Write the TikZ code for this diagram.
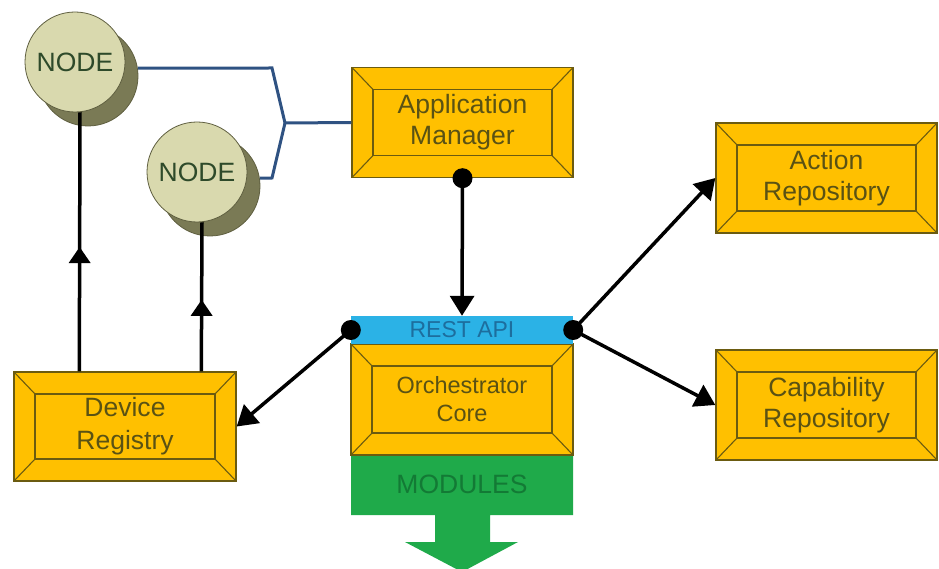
\documentclass[tikz,border=0pt]{standalone}
\usepackage{fontspec}
\setmainfont{Liberation Sans}
\usetikzlibrary{arrows.meta,calc}
\definecolor{orng}{HTML}{FFC000}
\definecolor{bord}{HTML}{6B5B10}
\definecolor{boxtxt}{HTML}{5A5214}
\definecolor{nfill}{HTML}{D9D9AE}
\definecolor{shad}{HTML}{7A7A55}
\definecolor{nbord}{HTML}{5F5F40}
\definecolor{ntxt}{HTML}{2E4A2A}
\definecolor{bline}{HTML}{2F5282}
\definecolor{restblue}{HTML}{2BB2E6}
\definecolor{resttxt}{HTML}{1D6E9E}
\definecolor{modgreen}{HTML}{1FAA4A}
\definecolor{modtxt}{HTML}{137A35}
\begin{document}
\begin{tikzpicture}[x=1pt,y=-1pt,
  bevelbox/.style={draw=bord, line width=1.4pt, fill=orng, minimum width=221pt,
    minimum height=110pt, inner sep=0pt, text=boxtxt, align=center,
    font=\fontsize{26.5}{31}\selectfont,
    path picture={
      \draw[line width=1.1pt, draw=bord]
        ([shift={(21pt,-22pt)}]path picture bounding box.north west) coordinate (i1)
        rectangle ([shift={(-21pt,22pt)}]path picture bounding box.south east) coordinate (i2);
      \draw[line width=1.1pt, draw=bord]
        (path picture bounding box.north west) -- (i1)
        (path picture bounding box.south east) -- (i2)
        (path picture bounding box.north east) -- (i1 -| i2)
        (path picture bounding box.south west) -- (i1 |- i2);
    }},
  shadowcirc/.style={circle, fill=shad, draw=nbord, line width=0.8pt, minimum size=100pt, inner sep=0pt},
  nodecirc/.style={circle, fill=nfill, draw=nbord, line width=0.8pt, minimum size=100pt, inner sep=0pt,
    text=ntxt, font=\fontsize{26.5}{31}\selectfont},
  blueline/.style={draw=bline, line width=3pt},
  arr/.style={line width=3.5pt, -{Triangle[width=24pt,length=20pt]}},
  plainline/.style={line width=3.5pt},
  dot/.style={fill=black}
]
\useasboundingbox (0,0) rectangle (939,569);

% circles
\node[shadowcirc] (n1s) at (88,76) {};
\node[nodecirc] (n1) at (75,62) {NODE};
\node[shadowcirc] (n2s) at (210,186) {};
\node[nodecirc] (n2) at (197,172) {NODE};

% boxes
\node[bevelbox] (am) at (462.5,122.5) {Application\\Manager};
\node[bevelbox, minimum width=222pt, minimum height=109pt, font=\fontsize{26.5}{33}\selectfont] (dr) at (125,426.5) {Device\\Registry};
\node[bevelbox] (ar) at (826.5,178) {Action\\Repository};
\node[bevelbox] (cr) at (826.5,405) {Capability\\Repository};

% modules arrow
\fill[modgreen] (351,455) -- (573,455) -- (573,515) -- (490,515) -- (490,542) -- (518,542)
  -- (462,572) -- (405,542) -- (435,542) -- (435,515) -- (351,515) -- cycle;
\node[text=modtxt, font=\fontsize{26.5}{31}\selectfont] (mod) at (462,484) {MODULES};

\node[bevelbox, minimum width=222pt, minimum height=111pt, font=\fontsize{23.5}{28}\selectfont] (oc) at (462,399.5) {Orchestrator\\Core};
\node[fill=restblue, minimum width=222pt, minimum height=28pt, inner sep=0pt,
  text=resttxt, font=\fontsize{23}{23}\selectfont] (rest) at (462,330) {REST API};

% blue connectors
\coordinate (jn) at (285,123);
\draw[blueline] (n1s.9) -- (272,68) -- (jn) -- (am.west);
\draw[blueline] (n2s.9) -- (272,178) -- (jn);

% vertical arrows with mid arrowheads
\coordinate (d1) at ([xshift=66pt]dr.north west);
\coordinate (e1) at ([xshift=5pt]n1.south);
\coordinate (d2) at ([xshift=188pt]dr.north west);
\coordinate (e2) at ([xshift=5pt]n2.south);
\draw[plainline] (d1) -- (e1);
\fill ($(d1)!0.48!(e1)$) -- ++(-11pt,-16pt) -- ++(22pt,0pt) -- cycle;
\draw[plainline] (d2) -- (e2);
\fill ($(d2)!0.48!(e2)$) -- ++(-11pt,-16pt) -- ++(22pt,0pt) -- cycle;

% black arrows
\draw[arr] (am.south) -- (rest.north);
\draw[arr] (rest.west) -- (dr.east);
\draw[arr] (rest.east) -- (ar.west);
\draw[arr] (rest.east) -- (cr.west);

\fill[dot] (am.south) circle (10pt);
\fill[dot] (rest.west) circle (10pt);
\fill[dot] (rest.east) circle (10pt);
\end{tikzpicture}
\end{document}
